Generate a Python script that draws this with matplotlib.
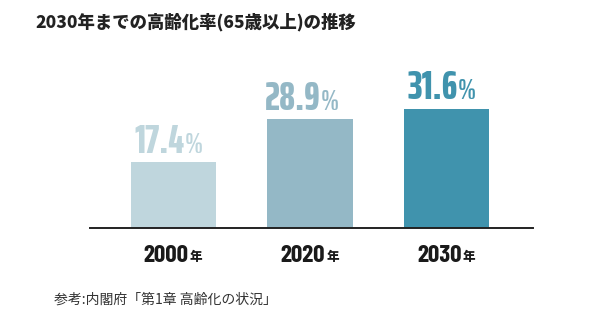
import matplotlib
matplotlib.use("Agg")
import matplotlib.pyplot as plt

# data
years = ["2000", "2020", "2030"]
rates = [17.4, 28.9, 31.6]
colors = ["#bfd6dd", "#94b8c6", "#4093ad"]
title = "2030年までの高齢化率(65歳以上)の推移"
source = "参考:内閣府「第1章 高齢化の状況」"

val_font = ["Saira ExtraCondensed", "DejaVu Sans"]
year_font = ["Barlow Condensed", "DejaVu Sans"]
jp_font = ["Noto Sans CJK JP", "DejaVu Sans"]

fig = plt.figure(figsize=(6.02, 3.34), dpi=100)
ax = fig.add_axes([90 / 602, 106 / 334, 443 / 602, 150.8 / 334])

x = list(range(len(years)))
ax.bar(x, rates, width=0.623, color=colors)
ax.set_xlim(-0.612, 2.634)
ax.set_ylim(0, 40)

for s in ["top", "left", "right"]:
    ax.spines[s].set_visible(False)
ax.spines["bottom"].set_color("#222222")
ax.spines["bottom"].set_linewidth(1.4)
ax.set_xticks([])
ax.set_yticks([])

for i, (yr, v, c) in enumerate(zip(years, rates, colors)):
    # value labels
    ax.annotate(f"{v:.1f}", xy=(i, v), xytext=(11, 9.5), textcoords="offset pixels",
                ha="right", va="baseline", fontsize=28.5, fontweight=800,
                family=val_font, color=c)
    ax.annotate("%", xy=(i, v), xytext=(11, 9.5), textcoords="offset pixels",
                ha="left", va="baseline", fontsize=21, fontweight=600,
                family=val_font, color=c)
    # year labels
    ax.annotate(yr, xy=(i, 0), xytext=(15, -33.5), textcoords="offset pixels",
                ha="right", va="baseline", fontsize=18, fontweight=700,
                family=year_font, color="#1a1a1a")
    ax.annotate("年", xy=(i, 0), xytext=(16.5, -33.5), textcoords="offset pixels",
                ha="left", va="baseline", fontsize=9, fontweight="heavy",
                family=jp_font, color="#1a1a1a")

fig.text(35 / 602, 1 - 22 / 334, title, ha="left", va="center", fontsize=12.5,
         fontweight="heavy", family=jp_font, color="#222222")
fig.text(54 / 602, 1 - 300 / 334, source, ha="left", va="center", fontsize=10,
         family=jp_font, color="#333333")

fig.savefig("out.png", dpi=100)
